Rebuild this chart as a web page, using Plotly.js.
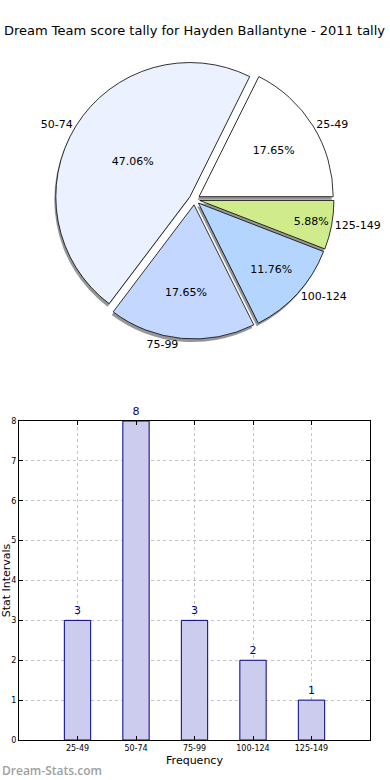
<!DOCTYPE html>
<html>
<head>
<meta charset="utf-8">
<script src="https://cdn.plot.ly/plotly-3.0.1.min.js"></script>
<style>html,body{margin:0;padding:0;background:#fff;}#chart{width:390px;height:780px;}</style>
</head>
<body>
<div id="chart"></div>
<script>
var categories = ["25-49", "50-74", "75-99", "100-124", "125-149"];
var counts = [3, 8, 3, 2, 1];
var sliceColors = ["#ffffff", "#ebf1fe", "#c4d7fe", "#b4d6fe", "#cfeb8b"];
var yTicks = [0, 1, 2, 3, 4, 5, 6, 7, 8];

var FONT = "DejaVu Sans, sans-serif";
var W = 390, H = 780, ML = 19, MR = 20, MT = 0, MB = 40;
var PW = W - ML - MR, PH = H - MT - MB;
function py(px) { return (PH - (px - MT)) / PH; }
function pxx(px) { return (px - ML) / PW; }

var total = counts.reduce(function(a, b){ return a + b; }, 0);
// first slice should start at 3 o'clock and run counterclockwise
var rot = 90 - 360 * counts[0] / total;

var pieDomain = {x: [0, 1], y: [py(339), py(60)]};
var sdx = -3 / PW, sdy = -3 / PH;
var pullArr = counts.map(function(){ return 0.04; });

var shadow = {
  type: "pie", values: counts, labels: categories, sort: false,
  direction: "counterclockwise", rotation: rot, pull: pullArr,
  domain: {x: [pieDomain.x[0] + sdx, pieDomain.x[1] + sdx], y: [pieDomain.y[0] + sdy, pieDomain.y[1] + sdy]},
  marker: {colors: counts.map(function(){ return "rgba(80,80,80,0.6)"; }), line: {width: 0}},
  textinfo: "none", hoverinfo: "skip", showlegend: false
};
var pieMain = {
  type: "pie", values: counts, labels: categories, sort: false,
  direction: "counterclockwise", rotation: rot, pull: pullArr,
  domain: pieDomain,
  marker: {colors: sliceColors, line: {color: "#000", width: 0.8}},
  texttemplate: "%{percent:.2%}", textposition: "inside", insidetextorientation: "horizontal",
  textfont: {family: FONT, size: 11, color: "#000"},
  hoverinfo: "label+percent", showlegend: false
};
var pieLabels = {
  type: "pie", values: counts, labels: categories, sort: false,
  direction: "counterclockwise", rotation: rot, pull: pullArr,
  domain: pieDomain,
  marker: {colors: counts.map(function(){ return "rgba(0,0,0,0)"; }), line: {width: 0}},
  textinfo: "label", textposition: "outside",
  textfont: {family: FONT, size: 11, color: "#000"},
  hoverinfo: "skip", showlegend: false
};

var bars = {
  type: "bar", x: categories, y: counts, width: 0.45,
  marker: {color: "#ccccee", line: {color: "#000080", width: 1}},
  text: counts.map(String), textposition: "outside", cliponaxis: false,
  textfont: {family: FONT, size: 11, color: "#000080"},
  xaxis: "x", yaxis: "y", showlegend: false
};

var layout = {
  width: W, height: H,
  margin: {l: ML, r: MR, t: MT, b: MB},
  paper_bgcolor: "#fff", plot_bgcolor: "#fff",
  font: {family: FONT, color: "#000"},
  title: {text: "Dream Team score tally for Hayden Ballantyne - 2011 tally",
    font: {family: FONT, size: 13, color: "#000"},
    x: 0.5, xref: "paper", xanchor: "center", y: 1 - 30 / H, yref: "container", yanchor: "middle"},
  xaxis: {
    domain: [0, 1], anchor: "y", type: "category", range: [-1, 5],
    showline: true, linecolor: "#000", linewidth: 1, mirror: "ticks",
    ticks: "inside", ticklen: 4, tickcolor: "#000",
    showgrid: true, gridcolor: "#c4c4c4", griddash: "dot", gridwidth: 1,
    tickfont: {family: FONT, size: 8, color: "#000"},
    title: {text: "Frequency", font: {family: FONT, size: 11, color: "#000"}, standoff: 4},
    zeroline: false
  },
  yaxis: {
    domain: [0, py(421)], anchor: "x", range: [0, 8], tickvals: yTicks,
    showline: true, linecolor: "#000", linewidth: 1, mirror: "ticks",
    ticks: "inside", ticklen: 4, tickcolor: "#000",
    showgrid: true, gridcolor: "#c4c4c4", griddash: "dot", gridwidth: 1,
    tickfont: {family: FONT, size: 8, color: "#000"},
    title: {text: "Stat Intervals", font: {family: FONT, size: 11, color: "#000"}, standoff: 2},
    zeroline: false
  },
  annotations: [{
    text: "Dream-Stats.com", xref: "paper", yref: "paper",
    x: pxx(0), y: py(770), xanchor: "left", yanchor: "middle", showarrow: false,
    font: {family: "Open Sans, sans-serif", size: 12, color: "#a0a0a0", weight: 600}
  }]
};

Plotly.newPlot("chart", [shadow, pieMain, pieLabels, bars], layout, {displayModeBar: false, staticPlot: true});
</script>
</body>
</html>
